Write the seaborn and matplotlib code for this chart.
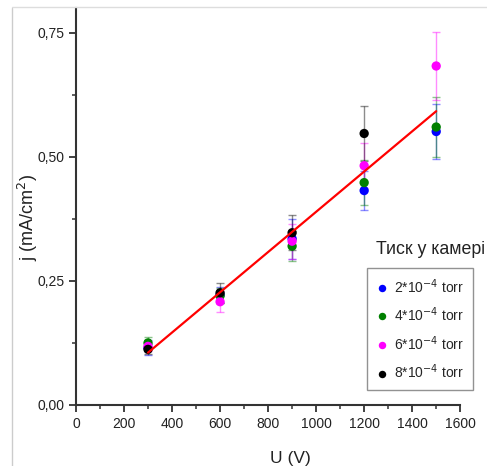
import numpy as np
import pandas as pd
import matplotlib
matplotlib.use("Agg")
import matplotlib.pyplot as plt
from matplotlib.lines import Line2D
import seaborn as sns

# Data
voltage = [300, 600, 900, 1200, 1500]
pressures = ["2*10$^{-4}$ torr", "4*10$^{-4}$ torr", "6*10$^{-4}$ torr", "8*10$^{-4}$ torr"]
colors = ["#0000ff", "#008000", "#ff00ff", "#000000"]

j_p2 = [0.115, 0.222, 0.335, 0.432, 0.551]
j_p4 = [0.125, 0.220, 0.320, 0.448, 0.560]
j_p6 = [0.118, 0.208, 0.330, 0.482, 0.683]
j_p8 = [0.112, 0.226, 0.347, 0.547, np.nan]

err_p2 = [0.015, 0.015, 0.040, 0.040, 0.055]
err_p4 = [0.012, 0.015, 0.030, 0.045, 0.060]
err_p6 = [0.010, 0.020, 0.035, 0.045, 0.068]
err_p8 = [0.010, 0.020, 0.035, 0.055, np.nan]

series = [j_p2, j_p4, j_p6, j_p8]
errors = [err_p2, err_p4, err_p6, err_p8]

frames = []
for name, vals, errs in zip(pressures, series, errors):
    frames.append(pd.DataFrame({"U": voltage, "j": vals, "err": errs, "p": name}))
df = pd.concat(frames, ignore_index=True).dropna()

sns.set_style("ticks")
plt.rcParams["font.family"] = ["Liberation Sans", "DejaVu Sans"]

fig = plt.figure(figsize=(4.87, 4.66), dpi=100)
ax = fig.add_axes([0.156, 0.131, 0.789, 0.852])

# error bars first, then points on top
for name, col in zip(pressures, colors):
    d = df[df["p"] == name]
    ax.errorbar(d["U"], d["j"], yerr=d["err"], fmt="none", ecolor=col,
                alpha=0.45, elinewidth=1.0, capsize=3, capthick=1.0, zorder=2)

sns.scatterplot(data=df, x="U", y="j", hue="p", hue_order=pressures,
                palette=colors, s=45, edgecolor="none", ax=ax, zorder=3)

# linear fit through all points
sns.regplot(data=df, x="U", y="j", scatter=False, ci=None, truncate=True,
            color="#ff0000", line_kws={"linewidth": 1.6, "zorder": 4}, ax=ax)

ax.set_xlim(0, 1600)
ax.set_ylim(0, 0.80)
ax.set_xticks(np.arange(0, 1601, 200))
ax.set_xticks(np.arange(100, 1600, 200), minor=True)
ax.set_yticks([0, 0.25, 0.5, 0.75])
ax.set_yticks([0.125, 0.375, 0.625], minor=True)
ax.set_yticklabels(["0,00", "0,25", "0,50", "0,75"])

for s in ["top", "right"]:
    ax.spines[s].set_visible(False)
for s in ["left", "bottom"]:
    ax.spines[s].set_color("#333333")
    ax.spines[s].set_linewidth(1.5)
ax.tick_params(which="major", length=5, width=1.3, color="#333333",
               labelsize=10, labelcolor="#222222")
ax.tick_params(which="minor", length=3, width=1.1, color="#333333")

ax.set_xlabel("U (V)", fontsize=12.5, color="#222222")
ax.set_ylabel("j (mA/cm$^2$)", fontsize=13, color="#222222")
ax.xaxis.set_label_coords(0.557, -0.116)
ax.yaxis.set_label_coords(-0.094, 0.471)

leg = ax.legend(loc="upper left", bbox_to_anchor=(0.758, 0.345), fontsize=10,
                frameon=True, fancybox=False, edgecolor="#777777",
                labelspacing=0.72, handlelength=0.8, handletextpad=0.45,
                borderpad=0.65, borderaxespad=0, markerscale=0.8, title=None)
leg.get_frame().set_linewidth(1.0)
ax.text(0.781, 0.392, "Тиск у камері", transform=ax.transAxes, fontsize=12.8,
        color="#222222", ha="left", va="center", clip_on=False)

# screenshot frame lines
fig.add_artist(Line2D([0.0246, 0.0246], [0.0, 0.983], color="#cccccc", linewidth=1))
fig.add_artist(Line2D([0.0246, 1.0], [0.985, 0.985], color="#dddddd", linewidth=1))

fig.savefig("out.png", dpi=100)
